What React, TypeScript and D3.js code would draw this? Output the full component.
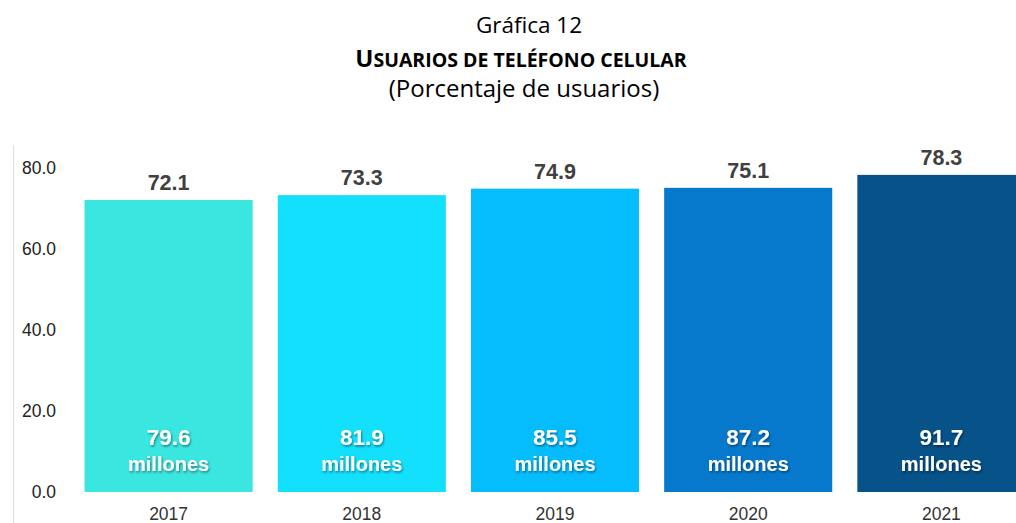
import React from 'react';
import * as d3 from 'd3';

const years = ['2017', '2018', '2019', '2020', '2021'];
const percentUsers = [72.1, 73.3, 74.9, 75.1, 78.3];
const millionUsers = ['79.6', '81.9', '85.5', '87.2', '91.7'];
const barColors = ['#3ae6e0', '#12e0fc', '#05bdfd', '#0779cc', '#065289'];
const yTicks = [0, 20, 40, 60, 80];

const W = 1016;
const H = 523;

export default function App() {
  const x = d3.scaleBand<string>()
    .domain(years)
    .range([72, 1038])
    .paddingInner(0.13)
    .paddingOuter(0.065);

  const y = d3.scaleLinear()
    .domain([0, 80])
    .range([492, 168]);

  const sans = 'Liberation Sans, Arial, sans-serif';
  const titleFont = 'Open Sans, Noto Sans, sans-serif';

  return (
    <svg width={W} height={H} style={{ position: 'absolute', left: 0, top: 0 }}>
      <defs>
        <filter id="shadow" x="-20%" y="-20%" width="140%" height="160%">
          <feDropShadow dx="1" dy="1.5" stdDeviation="1" floodColor="#000" floodOpacity="0.45" />
        </filter>
      </defs>
      <rect width={W} height={H} fill="#fff" />

      {/* titles */}
      <text x={529} y={33} textAnchor="middle" fontFamily={titleFont} fontSize={22.5} fill="#000">
        Gráfica 12
      </text>
      <text x={521} y={67} textAnchor="middle" fontFamily={titleFont} fontWeight="bold" fill="#000">
        <tspan fontSize={24}>U</tspan>
        <tspan fontSize={19.5}>SUARIOS DE TELÉFONO CELULAR</tspan>
      </text>
      <text x={524} y={97} textAnchor="middle" fontFamily={titleFont} fontSize={24} fill="#000">
        (Porcentaje de usuarios)
      </text>

      {/* left axis line */}
      <line x1={13.5} x2={13.5} y1={145} y2={H} stroke="#dedede" strokeWidth={1} />

      {/* y tick labels */}
      {yTicks.map(t => (
        <text key={t} x={56} y={y(t)} dy="0.36em" textAnchor="end" fontFamily={sans} fontSize={17.5} fill="#222">
          {t.toFixed(1)}
        </text>
      ))}

      {/* bars */}
      {years.map((yr, i) => {
        const bx = x(yr)!;
        const cx = bx + x.bandwidth() / 2;
        return (
          <g key={yr}>
            <rect x={bx} y={y(percentUsers[i])} width={x.bandwidth()} height={y(0) - y(percentUsers[i])} fill={barColors[i]} />
            <text x={cx} y={y(percentUsers[i]) - 10} textAnchor="middle" fontFamily={sans} fontWeight="bold" fontSize={21.5} fill="#404040">
              {percentUsers[i].toFixed(1)}
            </text>
            <g filter="url(#shadow)">
              <text x={cx} y={y(0) - 47} textAnchor="middle" fontFamily={sans} fontWeight="bold" fontSize={22.5} fill="#fff">
                {millionUsers[i]}
              </text>
              <text x={cx} y={y(0) - 21} textAnchor="middle" fontFamily={sans} fontWeight="bold" fontSize={20} fill="#fff">
                millones
              </text>
            </g>
            <text x={cx} y={520} textAnchor="middle" fontFamily={sans} fontSize={17.5} fill="#333">
              {yr}
            </text>
          </g>
        );
      })}
    </svg>
  );
}
